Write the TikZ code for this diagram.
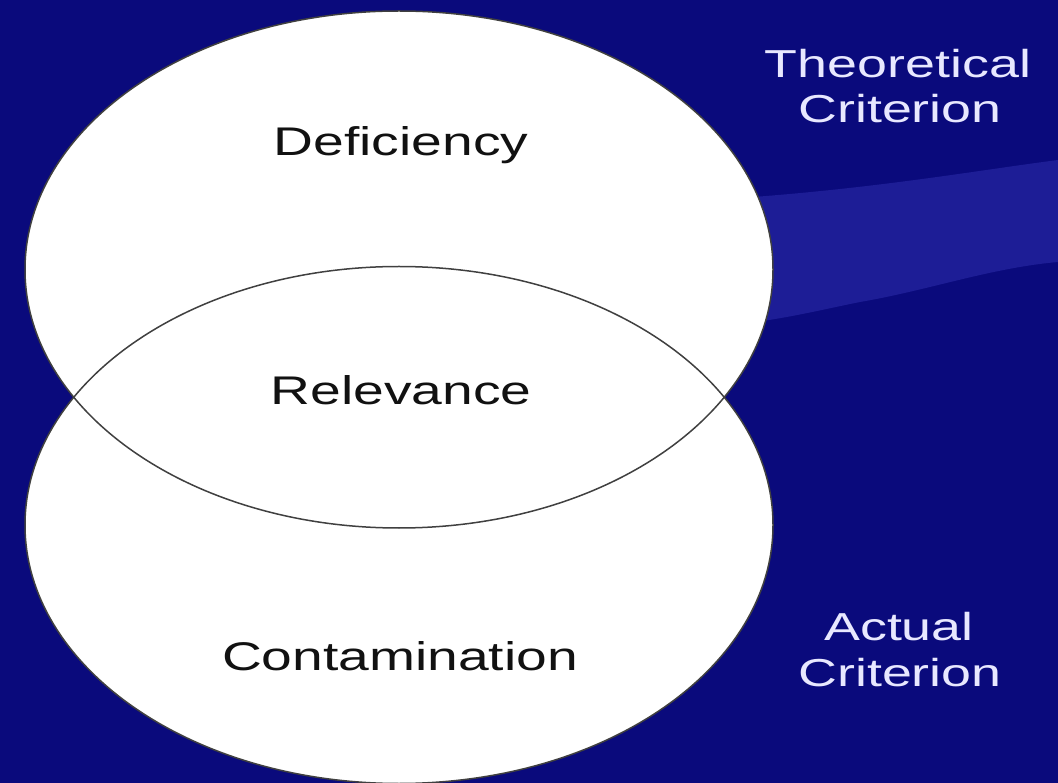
\documentclass[tikz,border=0pt]{standalone}
\usepackage{fontspec}
\setmainfont{Liberation Sans}
\usepackage{xcolor}
\usepackage{tikz}
\definecolor{slidebg}{HTML}{0A0A7C}
\definecolor{swoosh}{HTML}{1D1D96}
\definecolor{lensline}{HTML}{404040}
\definecolor{labelfg}{HTML}{E8E8FF}
\definecolor{settext}{HTML}{111111}

\begin{document}
\begin{tikzpicture}[
    x=1pt, y=-1pt,
    venn/.style={fill=white},
    rim/.style={draw=lensline, line width=1.5pt},
    inlabel/.style={anchor=base, inner sep=0pt, xscale=1.38, text=settext, font=\fontsize{40}{45}\selectfont},
    outlabel/.style={anchor=base, inner sep=0pt, xscale=1.38, text=labelfg, font=\fontsize{39}{45}\selectfont}
]
\useasboundingbox (0,0) rectangle (1058,783);
\clip (0,0) rectangle (1058,783);
\fill[slidebg] (0,0) rectangle (1058,783);

% light band behind the sets
\fill[swoosh] (740,198) .. controls (880,188) and (980,170) .. (1058,160)
    -- (1058,262) .. controls (990,268) and (930,290) .. (860,302)
    .. controls (820,310) and (790,318) .. (740,324) -- cycle;

% the two sets
\coordinate (theo) at (399,269.5);
\coordinate (act) at (399,525);
\fill[venn] (theo) ellipse [x radius=374pt, y radius=258.5pt];
\fill[venn] (act) ellipse [x radius=374pt, y radius=258.5pt];
\draw[rim] (theo) ellipse [x radius=374pt, y radius=258.5pt];
\draw[rim] (act) ellipse [x radius=374pt, y radius=258.5pt];

% labels inside
\node[inlabel] (defic) at (401,156) {Deficiency};
\node[inlabel] (relev) at (401,405) {Relevance};
\node[inlabel] (contam) at (400,670) {Contamination};

% labels outside
\node[outlabel] (theoline) at (898,78) {Theoretical};
\node[outlabel] (theocrit) at (900,123) {Criterion};
\node[outlabel] (actline) at (899,640) {Actual};
\node[outlabel] (actcrit) at (900,686) {Criterion};

\end{tikzpicture}
\end{document}
